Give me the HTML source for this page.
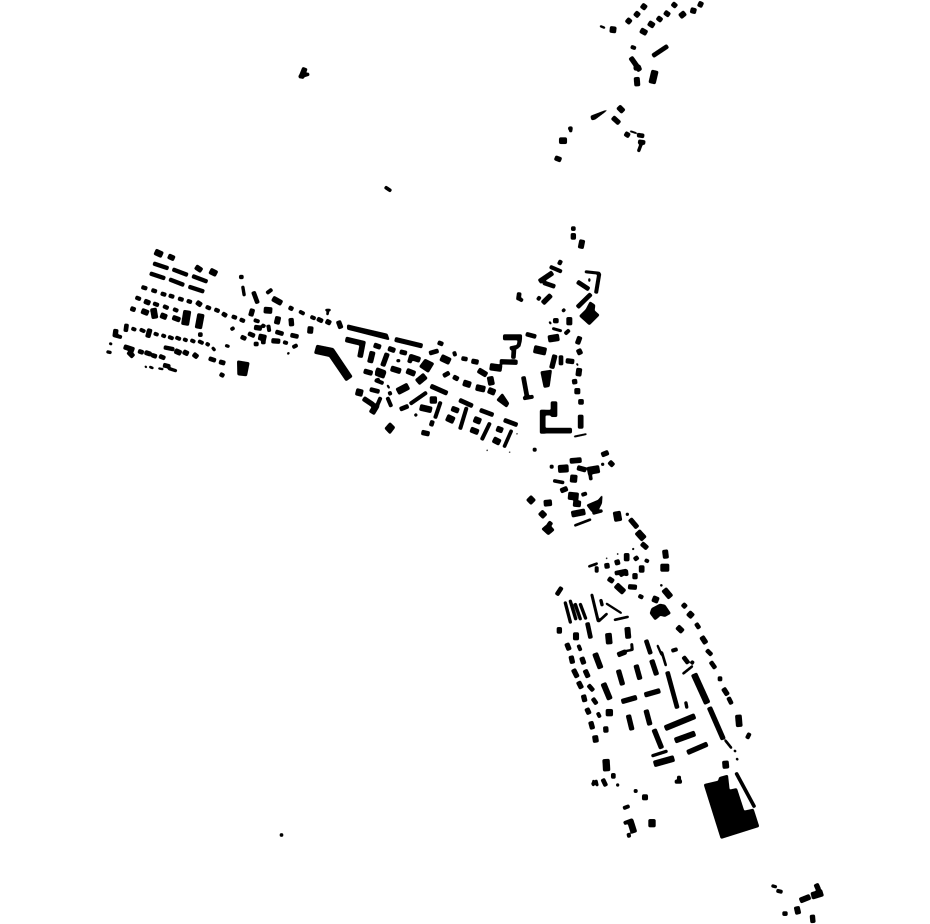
<!DOCTYPE html>
<html><head><meta charset="utf-8"><style>html,body{margin:0;padding:0;background:#fff}svg{display:block}polygon{fill:#000;stroke:none}</style></head><body>
<svg width="930" height="924" viewBox="0 0 930 924" xmlns="http://www.w3.org/2000/svg" fill="none" stroke="#000">
<defs><filter id="f" filterUnits="userSpaceOnUse" x="0" y="0" width="930" height="924"><feGaussianBlur stdDeviation="0.7"/><feComponentTransfer><feFuncA type="linear" slope="4" intercept="-0.8"/></feComponentTransfer></filter></defs>
<rect width="930" height="924" fill="#fff" stroke="none"/>
<g filter="url(#f)">
<!-- isolated -->
<path stroke-width="5" d="M301 78L305 68"/><path stroke-width="3" d="M299 77L309 74M385 187L391 191M280 835L283 835"/>
<!-- west -->
<g transform="translate(100 240) scale(.33333)">
<path stroke-width="18" d="M165 35L187 45"/><path stroke-width="15" d="M205 48L223 56M287 80L305 92"/><path stroke-width="18" d="M330 92L350 102"/>
<path stroke-width="11" d="M160 70L205 85M218 88L263 105M277 108L322 125M150 100L195 115M208 118L252 135M266 140L312 155M125 141L141 146M155 150L170 155M183 160L198 165M207 166L222 171M235 175L250 180M261 182L275 187M318 200L332 206M344 208L358 214M396 229L410 234M420 238L434 244M107 172L122 178M160 190L176 196M190 198L205 205M220 207L234 213M192 322L222 328"/>
<path stroke-width="14" d="M290 186L304 196M133 183L150 190M218 232L240 240M150 267L143 292M48 268L45 290M72 320L102 330M85 335L100 350M250 335L265 342M280 342L293 352"/>
<path stroke-width="12" d="M367 220L380 228M80 252L77 275M301 278L301 290M115 333L130 338M155 345L170 350M178 348L195 355M327 355L347 362M190 375L210 380"/>
<path stroke-width="13" d="M92 205L106 210M135 337L153 343M358 365L375 370"/><path stroke-width="16" d="M125 212L145 220M182 225L200 232"/>
<path stroke-width="18" d="M160 205L165 235"/><path stroke-width="22" d="M262 212L255 255"/><path stroke-width="20" d="M303 222L295 265"/>
<path stroke-width="10" d="M95 265L108 270M120 268L135 275M162 280L175 285M185 285L197 290M205 290L220 296M227 292L242 298M250 297L262 302M272 300L285 306M295 303L310 310M318 310L328 316M40 285L65 292"/>
<path stroke-width="8" d="M337 322L345 332M20 335L34 338M205 385L230 393M376 316L388 320M428 138L433 168"/><path stroke-width="7" d="M28 310L36 313M563 338L567 342"/>
<path stroke-width="15" d="M225 332L243 340"/><path stroke-width="5" d="M135 378L140 383M175 385L190 388"/><path stroke-width="6" d="M148 380L160 385M685 207L682 225"/>
<path stroke-width="12" d="M360 402L372 408M460 155L473 190M567 202L579 208M652 236L668 244M527 275L550 282M572 285L595 290M423 290L438 297M445 280L464 288M490 300L490 312M462 312L475 312M395 262L400 270"/>
<polygon points="412,362 448,368 440,408 413,405"/>
<path stroke-width="11" d="M418 111L430 111"/><path stroke-width="10" d="M500 160L516 148M598 214L613 222M632 230L646 236M462 240L478 245M485 255L495 260M505 255L508 275M550 306L563 310M578 322L592 315"/>
<path stroke-width="16" d="M518 175L545 190M535 230L530 252M632 260L630 280"/><path stroke-width="14" d="M458 207L452 228M573 235L575 258M678 243L692 250M463 262L485 265M515 302L540 304"/>
<path stroke-width="18" d="M492 210L516 212M476 290L498 295"/><path stroke-width="5" d="M676 210L692 210"/>
</g>
<!-- centre-west -->
<g transform="translate(310 310) scale(.33333)">
<polygon points="20,105 70,115 127,200 108,213 58,140 13,130"/>
<polygon points="112,44 232,72 238,90 112,58"/>
<path stroke-width="13" d="M255 88L337 108"/><path stroke-width="14" d="M85 33L93 55"/>
<path stroke-width="15" d="M107 88L158 100L150 142"/>
<path stroke-width="14" d="M192 105L212 112M235 115L255 122M232 130L218 168M162 183L187 190M160 265L190 285"/>
<path stroke-width="16" d="M188 125L180 158M243 175L272 184M300 140L330 150M290 182L315 192M198 180L225 190"/>
<path stroke-width="13" d="M270 125L290 130M362 228L412 250"/><path stroke-width="8" d="M260 152L270 152M205 205L203 218M315 312L320 318"/><path stroke-width="12" d="M305 135L298 158M358 130L385 122M384 97L399 103M455 145L472 148"/>
<polygon points="345,147 372,160 355,188 328,170"/>
<path stroke-width="20" d="M322 217L346 197M393 142L420 155M138 245L158 250"/>
<path stroke-width="10" d="M432 125L436 138"/><path stroke-width="14" d="M485 153L505 157"/><path stroke-width="16" d="M505 180L530 195"/><path stroke-width="20" d="M540 170L575 175"/>
<path stroke-width="18" d="M540 200L545 225M460 218L482 225M498 232L525 238M535 240L555 248"/>
<path stroke-width="12" d="M400 198L418 188"/><path stroke-width="13" d="M430 200L445 208"/>
<polygon points="577,250 597,280 590,292 560,270"/>
<path stroke-width="10" d="M300 282L350 247M392 275L375 325M470 292L450 358M540 338L515 390"/>
<path stroke-width="12" d="M270 298L295 288M368 332L363 348M448 270L488 288M510 300L550 315M582 330L622 345M180 238L208 245"/>
<path stroke-width="20" d="M360 270L380 270M410 322L432 332"/><path stroke-width="18" d="M330 292L365 300M492 327L512 335M550 388L570 398"/>
<path stroke-width="14" d="M335 367L358 372"/><path stroke-width="15" d="M425 295L446 303"/><path stroke-width="16" d="M482 358L505 367M560 355L578 362"/>
<path stroke-width="9" d="M605 360L582 412"/><path stroke-width="5" d="M620 370L622 373M530 420L533 422M598 425L600 428M232 225L238 235"/>
<polygon points="240,337 255,352 240,372 224,355"/>
<path stroke-width="10" d="M212 262L200 290M195 210L220 220M238 245L242 255M232 262L244 290"/><path stroke-width="18" d="M200 285L185 310"/>
<path stroke-width="20" d="M262 245L295 228M198 186L225 196"/>
</g>
<!-- north arm centre -->
<g transform="translate(490 220) scale(.33333)">
<path stroke-width="12" d="M250 20L250 32M262 185L297 208M262 262L303 222M88 218L85 240M72 385L70 415M100 470L112 535"/>
<path stroke-width="14" d="M250 40L250 58M148 185L188 158M158 250L183 225M190 302L205 302M195 405L185 445M228 422L252 425M253 478L255 492M30 425L82 427M270 350L262 372"/>
<path stroke-width="16" d="M277 60L272 85M238 292L238 315M268 445L265 468M262 505L262 522"/>
<path stroke-width="7" d="M285 155L330 160M187 325L215 333"/><path stroke-width="10" d="M328 160L318 220M218 268L224 274M180 140L215 155M143 240L150 230M85 235L98 242M225 342L238 330M90 360L85 380M60 385L85 380M100 535L130 530"/>
<path stroke-width="5" d="M298 175L298 185M178 305L183 312"/><path stroke-width="4" d="M260 430L264 437M252 650L290 642"/>
<polygon points="300,245 315,255 313,272 328,285 298,315 268,288 288,268"/>
<path stroke-width="12" d="M160 188L195 200M108 342L138 350M213 407L213 435"/><path stroke-width="14" d="M205 125L215 130"/>
<path stroke-width="20" d="M175 357L207 352"/><path stroke-width="16" d="M40 352L95 352"/><path stroke-width="10" d="M90 345L88 368"/>
<path stroke-width="22" d="M132 387L168 395"/><path stroke-width="15" d="M265 388L272 403M273 538L273 553M272 585L272 625M158 570L158 640M158 578L200 578M155 632L245 632"/>
<polygon points="152,455 185,450 178,500 162,503"/><path stroke-width="18" d="M192 545L192 590"/>
</g>
<!-- middle -->
<g transform="translate(520 445) scale(.33333)">
<path stroke-width="10" d="M39 14L49 14M90 65L100 65M185 150L200 145M375 345L386 350"/>
<path stroke-width="14" d="M245 30L265 22M268 50L280 62M122 138L142 130M330 222L352 248M365 295L382 310M345 335L352 345M260 355L262 370M345 385L345 402M265 400L280 410"/>
<path stroke-width="8" d="M244 58L252 58M318 208L326 208"/><path stroke-width="15" d="M150 48L184 45M365 362L365 382M320 325L320 348M285 354L299 350"/>
<path stroke-width="22" d="M115 72L145 70M203 78L238 72M145 152L175 155M290 200L295 228M422 368L447 368"/><path stroke-width="14" d="M172 68L198 75"/>
<path stroke-width="9" d="M210 85L213 105M100 107L132 113"/><path stroke-width="20" d="M162 90L160 112M26 158L40 172M352 260L372 282"/>
<path stroke-width="18" d="M160 175L182 177M155 208L195 200M72 175L95 173M61 201L75 215"/>
<polygon points="200,180 235,165 247,150 245,175 235,195 215,200"/><path stroke-width="8" d="M218 205L247 197"/><path stroke-width="6" d="M163 242L213 223M205 365L233 355M338 310L341 314"/>
<polygon points="65,252 85,235 103,255 85,270"/><path stroke-width="12" d="M85 232L95 240M285 385L320 378"/>
<path stroke-width="16" d="M435 315L438 340"/><path stroke-width="5" d="M291 327L295 327M258 340L262 340"/><path stroke-width="10" d="M230 365L230 382M318 375L320 392M300 392L320 380"/>
</g>
<!-- south -->
<g transform="translate(550 580) scale(.33333)">
<path stroke-width="12" d="M35 22L20 45M112 128L122 175M438 130L448 145M470 210L485 225M482 245L496 265M510 290L510 303M535 352L545 372M288 180L302 222M400 230L415 250M352 275L382 385M115 315L130 332M128 355L140 372"/>
<path stroke-width="18" d="M198 15L222 37M342 28L362 52M308 55L325 62M415 98L428 110M565 405L568 440M590 465L600 470M175 160L178 192M372 205L375 215M432 282L472 370"/>
<path stroke-width="14" d="M235 20L260 22M270 55L275 45M398 72L408 82M520 325L533 345M28 142L28 160M50 190L58 210M63 228L68 250M95 232L102 252M203 225L228 215M70 268L82 292M105 270L115 292M205 270L218 315M258 255L270 298M305 240L320 285M85 305L95 325M100 345L105 365M110 385L118 402M215 365L260 352M284 345L330 332M122 425L128 447M167 440L168 457M235 405L246 450M288 390L300 435M312 448L335 505M412 518L472 492M478 382L520 478"/>
<path stroke-width="6" d="M331 15L337 17M145 125L172 100M192 120L236 110M335 215L348 258M398 282L428 258M525 480L545 505"/>
<path stroke-width="8" d="M45 65L62 130M60 60L78 120M75 70L92 120M90 70L108 118M152 58L157 78M407 365L411 385"/><path stroke-width="7" d="M125 42L145 125M245 190L247 212"/><path stroke-width="5" d="M168 70L215 100M228 213L245 210M322 195L335 225"/>
<polygon points="305,85 330,72 345,75 362,100 345,110 325,105 330,108 315,120 300,100"/>
<path stroke-width="16" d="M382 140L398 155M78 158L78 180M232 142L235 175M135 220L152 265M160 310L180 358M135 467L138 487M345 445L435 408M375 482L435 460"/>
<path stroke-width="15" d="M455 170L468 190"/><path stroke-width="10" d="M85 195L92 212M143 398L150 412M423 245L431 250"/><path stroke-width="20" d="M178 388L178 408"/>
</g>
<!-- far south -->
<g transform="translate(580 740) scale(.33333)">
<path stroke-width="8" d="M215 48L262 33M575 437L590 441"/><path stroke-width="18" d="M222 72L282 55M436 63L438 85M150 240L162 278"/>
<path stroke-width="6" d="M462 31L468 35M469 55L474 60"/><path stroke-width="9" d="M468 98L524 202"/>
<polygon points="372,133 415,123 418,112 443,105 448,150 470,145 492,213 520,207 537,260 423,296"/>
<path stroke-width="20" d="M78 58L80 93M216 238L216 261M695 468L728 458"/><path stroke-width="12" d="M100 100L100 115M68 117L78 138M608 521L622 521"/>
<path stroke-width="5" d="M40 120L40 138"/><path stroke-width="7" d="M35 132L52 128M48 120L52 138"/><path stroke-width="8" d="M109 135L117 135"/>
<path stroke-width="10" d="M162 153L172 153M130 205L148 198M132 250L158 240M145 280L148 292M297 108L297 130M285 125L305 125M590 452L607 456"/>
<path stroke-width="16" d="M187 172L203 172M660 482L690 470M650 500L655 522"/><path stroke-width="14" d="M708 432L716 450M697 525L699 548"/>
</g>
<!-- north -->
<g transform="translate(540 0) scale(.33333)">
<path stroke-width="5" d="M180 78L195 84"/><path stroke-width="18" d="M210 88L228 90M58 422L80 422"/>
<path stroke-width="16" d="M260 58L272 68M285 38L297 48M305 15L318 25M302 90L320 100M326 68L342 78M420 50L435 38M452 30L468 34M475 10L488 16M290 232L292 258M235 320L250 335"/>
<path stroke-width="14" d="M352 52L365 62M374 36L388 46M397 10L409 20M272 172L300 212M218 352L238 370M45 473L63 480M255 400L268 408"/>
<path stroke-width="12" d="M338 168L383 138"/><path stroke-width="10" d="M273 140L287 145M282 207L302 200"/><path stroke-width="20" d="M345 212L336 250"/>
<polygon points="152,348 205,328 165,358 155,360"/><path stroke-width="8" d="M85 385L97 385M92 380L92 396M305 428L295 455"/>
<path stroke-width="4" d="M270 393L290 400"/><path stroke-width="12" d="M292 405L312 408M295 425L315 428"/>
</g>
</g>
</svg>
</body></html>
